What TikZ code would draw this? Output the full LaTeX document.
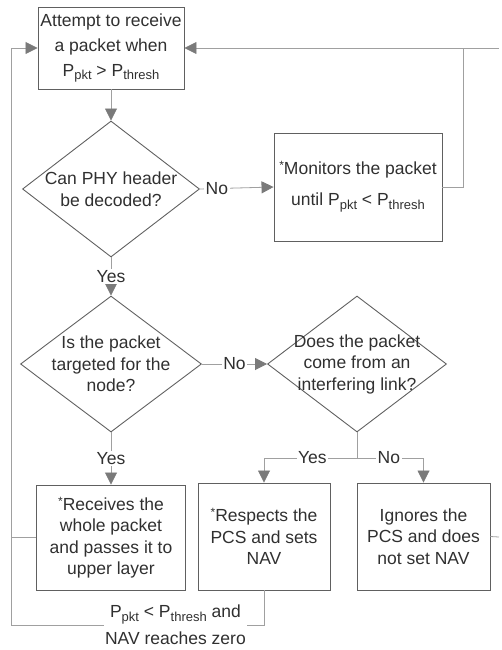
\documentclass[tikz,border=0pt]{standalone}
\usepackage{fontspec}
\setmainfont{Liberation Sans}
\usetikzlibrary{shapes.geometric,arrows.meta}
\definecolor{lineg}{HTML}{A0A0A0}
\definecolor{boxg}{HTML}{606060}
\definecolor{arrg}{HTML}{7A7A7A}
\definecolor{txtg}{HTML}{303030}
\newcommand\lowtxt[1]{\raisebox{-0.4ex}{\fontsize{13}{13}\selectfont #1}}
\newcommand\astx{\raisebox{0.55ex}{\fontsize{12}{12}\selectfont *}}
\begin{document}
\begin{tikzpicture}[x=1pt,y=-1pt,
  every node/.style={font=\fontsize{17.5}{21.5}\selectfont, text=txtg},
  boxst/.style={draw=boxg, line width=0.9pt, rectangle, inner sep=0pt, align=center},
  diast/.style={draw=boxg, line width=0.9pt, diamond, inner sep=0pt},
  txtst/.style={align=center, inner sep=0pt},
  conn/.style={draw=lineg, line width=0.8pt},
  arr/.style={conn, -{Triangle[length=12pt,width=12pt,fill=arrg,color=arrg]}},
  lbl/.style={fill=white, inner sep=1.5pt}
]
\useasboundingbox (0,0) rectangle (501,650);

% boxes and decisions
\node[boxst, minimum width=146pt, minimum height=82pt,
      font=\fontsize{17.5}{25}\selectfont] (b1) at (111,48)
  {Attempt to receive\\a packet when\\P\lowtxt{pkt} > P\lowtxt{thresh}};
\node[diast, minimum width=177pt, minimum height=136pt] (d1) at (111,189) {};
\node[txtst] (d1t) at (d1.center) {Can PHY header\\be decoded?};
\node[boxst, minimum width=168pt, minimum height=108pt,
      font=\fontsize{17.5}{31}\selectfont] (m) at (358,187)
  {\astx Monitors the packet\\until P\lowtxt{pkt} < P\lowtxt{thresh}};
\node[diast, minimum width=181pt, minimum height=136pt] (d2) at (111,364) {};
\node[txtst] (d2t) at (d2.center) {Is the packet\\targeted for the\\node?};
\node[diast, minimum width=179pt, minimum height=136pt] (d3) at (357,364) {};
\node[txtst] (d3t) at (d3.center) {Does the packet\\come from an\\interfering link?};
\node[boxst, minimum width=149pt, minimum height=105pt] (r1) at (111,537.5)
  {\astx Receives the\\whole packet\\and passes it to\\upper layer};
\node[boxst, minimum width=132pt, minimum height=107pt] (r2) at (264,536.5)
  {\astx Respects the\\PCS and sets\\NAV};
\node[boxst, minimum width=133pt, minimum height=107pt] (r3) at (423.5,536.5)
  {Ignores the\\PCS and does\\not set NAV};

% helper coordinates
\coordinate (mr) at (463,48);
\coordinate (j) at (357,458);
\coordinate (redge) at (499,537);
\coordinate (tedge) at (499,48);
\coordinate (bl) at (11,625);
\coordinate (tl) at (11,48);

% connectors
\draw[arr] (b1.south) -- (d1.north);
\draw[arr] (d1.east) -- node[lbl, pos=0.23]{No} (m.west);
\draw[arr] (d1.south) -- node[lbl]{Yes} (d2.north);
\draw[arr] (d2.east) -- node[lbl, pos=0.5]{No} (d3.west);
\draw[arr] (d2.south) -- node[lbl]{Yes} (r1.north);
\draw[conn] (d3.south) -- (j);
\draw[arr] (j) -- node[lbl, pos=0.48]{Yes} (r2.north |- j) -- (r2.north);
\draw[arr] (j) -- node[lbl, pos=0.48]{No} (r3.north |- j) -- (r3.north);
\draw[arr] (m.east) -| (mr) -- (b1.east |- mr);
\draw[conn] (r3.east) -- (redge);
\draw[conn] (tedge) -- (mr);
\draw[arr] (r2.south) -- (r2.south |- bl)
  -- node[lbl, pos=0.35, align=center, font=\fontsize{17.5}{27}\selectfont]
     {P\lowtxt{pkt} < P\lowtxt{thresh} and\\NAV reaches zero} (bl)
  -- (tl) -- (b1.west);
\draw[conn] (r1.west) -- (r1.west -| tl);
\end{tikzpicture}
\end{document}
